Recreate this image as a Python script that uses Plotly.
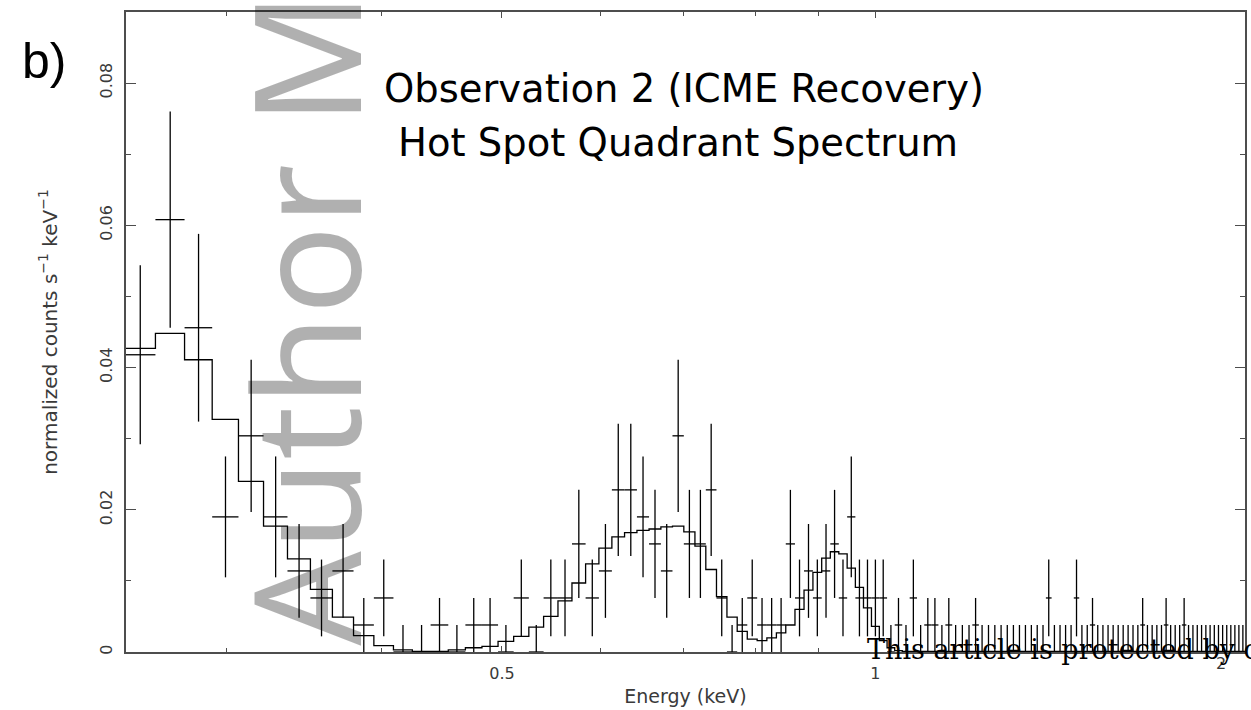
import plotly.graph_objects as go

# Channel centres (keV) of the 14.6 eV spectral channels
energy_kev = [
    0.2555, 0.2701, 0.2847, 0.2993, 0.3139, 0.3285, 0.3431, 0.3577, 0.3723, 0.3869,
    0.4015, 0.4161, 0.4307, 0.4453, 0.4599, 0.4745, 0.4891, 0.5037, 0.5183, 0.5329,
    0.5475, 0.5621, 0.5767, 0.5913, 0.6059, 0.6205, 0.6351, 0.6497, 0.6643, 0.6789,
    0.6935, 0.7081, 0.7227, 0.7373, 0.7519, 0.7665, 0.7811, 0.7957, 0.8103, 0.8249,
    0.8395, 0.8541, 0.8687, 0.8833, 0.8979, 0.9125, 0.9271, 0.9417, 0.9563, 0.9709,
    0.9855, 1.0001, 1.0147, 1.0293, 1.0439, 1.0585, 1.0731, 1.0877, 1.1023, 1.1169,
    1.1315, 1.1461, 1.1607, 1.1753, 1.1899, 1.2045, 1.2191, 1.2337, 1.2483, 1.2629,
    1.2775, 1.2921, 1.3067, 1.3213, 1.3359, 1.3505, 1.3651, 1.3797, 1.3943, 1.4089,
    1.4235, 1.4381, 1.4527, 1.4673, 1.4819, 1.4965, 1.5111, 1.5257, 1.5403, 1.5549,
    1.5695, 1.5841, 1.5987, 1.6133, 1.6279, 1.6425, 1.6571, 1.6717, 1.6863, 1.7009,
    1.7155, 1.7301, 1.7447, 1.7593, 1.7739, 1.7885, 1.8031, 1.8177, 1.8323, 1.8469,
    1.8615, 1.8761, 1.8907, 1.9053, 1.9199, 1.9345, 1.9491, 1.9637, 1.9783,
]
half_width_kev = 0.0073

# Normalized counts s^-1 keV^-1 per channel
rate = [
    0.0418, 0.0608, 0.0456, 0.0190, 0.0304, 0.0190, 0.0114, 0.0076, 0.0114, 0.0038,
    0.0076, 0.0, 0.0, 0.0038, 0.0, 0.0038, 0.0038, 0.0, 0.0076, 0.0,
    0.0076, 0.0076, 0.0152, 0.0076, 0.0114, 0.0228, 0.0228, 0.0190, 0.0152, 0.0114,
    0.0304, 0.0152, 0.0152, 0.0228, 0.0076, 0.0, 0.0038, 0.0076, 0.0038, 0.0038,
    0.0038, 0.0152, 0.0076, 0.0114, 0.0076, 0.0114, 0.0152, 0.0076, 0.0190, 0.0076,
    0.0076, 0.0076, 0.0076, 0.0, 0.0038, 0.0, 0.0076, 0.0, 0.0038, 0.0038,
    0.0, 0.0038, 0.0, 0.0, 0.0, 0.0038, 0.0, 0.0, 0.0, 0.0,
    0.0, 0.0, 0.0, 0.0, 0.0, 0.0, 0.0, 0.0076, 0.0, 0.0,
    0.0, 0.0, 0.0076, 0.0, 0.0, 0.0038, 0.0, 0.0, 0.0, 0.0,
    0.0, 0.0, 0.0, 0.0, 0.0, 0.0038, 0.0, 0.0, 0.0, 0.0,
    0.0038, 0.0, 0.0, 0.0, 0.0038, 0.0, 0.0, 0.0, 0.0, 0.0,
    0.0, 0.0, 0.0, 0.0, 0.0, 0.0, 0.0, 0.0, 0.0,
]

rate_err = [
    0.0126, 0.0152, 0.0132, 0.0085, 0.0107, 0.0085, 0.0066, 0.0054, 0.0066, 0.0038,
    0.0054, 0.0038, 0.0038, 0.0038, 0.0038, 0.0038, 0.0038, 0.0038, 0.0054, 0.0038,
    0.0054, 0.0054, 0.0076, 0.0054, 0.0066, 0.0093, 0.0093, 0.0085, 0.0076, 0.0066,
    0.0107, 0.0076, 0.0076, 0.0093, 0.0054, 0.0038, 0.0038, 0.0054, 0.0038, 0.0038,
    0.0038, 0.0076, 0.0054, 0.0066, 0.0054, 0.0066, 0.0076, 0.0054, 0.0085, 0.0054,
    0.0054, 0.0054, 0.0054, 0.0038, 0.0038, 0.0038, 0.0054, 0.0038, 0.0038, 0.0038,
    0.0038, 0.0038, 0.0038, 0.0038, 0.0038, 0.0038, 0.0038, 0.0038, 0.0038, 0.0038,
    0.0038, 0.0038, 0.0038, 0.0038, 0.0038, 0.0038, 0.0038, 0.0054, 0.0038, 0.0038,
    0.0038, 0.0038, 0.0054, 0.0038, 0.0038, 0.0038, 0.0038, 0.0038, 0.0038, 0.0038,
    0.0038, 0.0038, 0.0038, 0.0038, 0.0038, 0.0038, 0.0038, 0.0038, 0.0038, 0.0038,
    0.0038, 0.0038, 0.0038, 0.0038, 0.0038, 0.0038, 0.0038, 0.0038, 0.0038, 0.0038,
    0.0038, 0.0038, 0.0038, 0.0038, 0.0038, 0.0038, 0.0038, 0.0038, 0.0038,
]

# Folded model, one value per channel
model = [
    0.0427, 0.0448, 0.0411, 0.0327, 0.0240, 0.0177, 0.0131, 0.0088, 0.0049, 0.0023,
    0.0009, 0.0003, 0.0001, 0.0001, 0.0003, 0.0006, 0.0008, 0.0015, 0.0022, 0.0035,
    0.0050, 0.0072, 0.0097, 0.0124, 0.0146, 0.0162, 0.0168, 0.0171, 0.0173, 0.0176,
    0.0177, 0.0169, 0.0149, 0.0116, 0.0078, 0.0049, 0.0029, 0.0018, 0.0016, 0.0020,
    0.0027, 0.0038, 0.0060, 0.0087, 0.0112, 0.0132, 0.0141, 0.0138, 0.0118, 0.0091,
    0.0062, 0.0036, 0.0016, 0.0006, 0.0002, 0.0001, 0.0001, 0.0001, 0.0001, 0.0001,
    0.0001, 0.0001, 0.0001, 0.0001, 0.0001, 0.0001, 0.0001, 0.0001, 0.0001, 0.0001,
    0.0001, 0.0001, 0.0001, 0.0001, 0.0001, 0.0001, 0.0001, 0.0001, 0.0001, 0.0001,
    0.0001, 0.0001, 0.0001, 0.0001, 0.0001, 0.0001, 0.0001, 0.0001, 0.0001, 0.0001,
    0.0001, 0.0001, 0.0001, 0.0001, 0.0001, 0.0001, 0.0001, 0.0001, 0.0001, 0.0001,
    0.0001, 0.0001, 0.0001, 0.0001, 0.0001, 0.0001, 0.0001, 0.0001, 0.0001, 0.0001,
    0.0001, 0.0001, 0.0001, 0.0001, 0.0001, 0.0001, 0.0001, 0.0001, 0.0001,
]

x_major = [0.5, 1]
x_major_text = ["0.5", "1"]
x_minor = [0.3, 0.4, 0.6, 0.7, 0.8, 0.9]
y_major = [0, 0.02, 0.04, 0.06, 0.08]
y_major_text = ["0", "0.02", "0.04", "0.06", "0.08"]

title_lines = ["Observation 2 (ICME Recovery)", "Hot Spot Quadrant Spectrum"]

W, H = 1251, 710
PL, PR, PT, PB = 126, 1247, 12, 652


def fx(px):
    return (px - PL) / (PR - PL)


def fy(py):
    return (PB - py) / (PB - PT)


ink = "black"
frame = "#4d4d4d"
tick_font = dict(family="DejaVu Sans", size=16, color="#3a3a3a")

# step model drawn over the channel boundaries
edges = [e - half_width_kev for e in energy_kev] + [energy_kev[-1] + half_width_kev]
model_steps = model + [model[-1]]

fig = go.Figure()
fig.add_trace(go.Scatter(
    x=edges, y=model_steps, mode="lines", line_shape="hv",
    line=dict(color=ink, width=1.3), hoverinfo="skip", showlegend=False,
))
fig.add_trace(go.Scatter(
    x=energy_kev, y=rate, mode="markers",
    marker=dict(size=2, color=ink, opacity=0),
    error_y=dict(type="data", array=rate_err, width=0, thickness=1.3, color=ink),
    error_x=dict(type="constant", value=half_width_kev, width=0, thickness=1.3, color=ink),
    showlegend=False,
))

annotations = [
    dict(text="Author Manuscript", textangle=-90, x=fx(303), y=fy(648),
         xanchor="center", yanchor="bottom",
         font=dict(family="Noto Sans", size=148, color="rgba(0,0,0,0.31)")),
    dict(text="b)", x=fx(20), y=fy(61), xanchor="left", yanchor="middle",
         font=dict(family="Liberation Sans", size=50, color="black")),
    dict(text=title_lines[0], x=fx(684.5), y=fy(88), xanchor="center", yanchor="middle",
         font=dict(family="DejaVu Sans", size=38.5, color="black")),
    dict(text=title_lines[1], x=fx(679), y=fy(142), xanchor="center", yanchor="middle",
         font=dict(family="DejaVu Sans", size=38.5, color="black")),
    dict(text="2", x=fx(1223), y=fy(663), xanchor="center", yanchor="middle",
         font=tick_font),
    dict(text="This article is protected by copyright. All rights reserved",
         x=fx(866), y=fy(649), xanchor="left", yanchor="middle",
         font=dict(family="DejaVu Serif", size=27, color="black")),
]
for a in annotations:
    a.update(xref="paper", yref="paper", showarrow=False)

fig.update_layout(
    width=W, height=H,
    margin=dict(l=PL, r=W - PR, t=PT, b=H - PB, pad=0),
    paper_bgcolor="white", plot_bgcolor="white",
    showlegend=False,
    annotations=annotations,
    xaxis=dict(
        type="log", range=[-0.6041, 0.2980],
        tickmode="array", tickvals=x_major, ticktext=x_major_text,
        ticks="inside", ticklen=6, tickwidth=1.3, tickcolor=frame,
        minor=dict(tickvals=x_minor, ticks="inside", ticklen=4, tickwidth=1.3, tickcolor=frame),
        showline=True, linecolor=frame, linewidth=1.5, mirror="ticks",
        showgrid=False, zeroline=False, tickfont=tick_font, ticklabelstandoff=6,
        title=dict(text="Energy (keV)", font=dict(family="DejaVu Sans", size=19, color="#3a3a3a"),
                   standoff=8),
    ),
    yaxis=dict(
        range=[0, 0.09],
        tickmode="array", tickvals=y_major, ticktext=y_major_text, tickangle=-90,
        ticks="inside", ticklen=10, tickwidth=1.3, tickcolor=frame,
        minor=dict(dtick=0.01, ticks="inside", ticklen=5, tickwidth=1.3, tickcolor=frame),
        showline=True, linecolor=frame, linewidth=1.5, mirror="ticks",
        showgrid=False, zeroline=False, tickfont=tick_font, ticklabelstandoff=6,
        title=dict(text="normalized counts s<sup>\u22121</sup> keV<sup>\u22121</sup>",
                   font=dict(family="DejaVu Sans", size=20, color="#3a3a3a"), standoff=34),
    ),
)

fig.write_html("out.html")
